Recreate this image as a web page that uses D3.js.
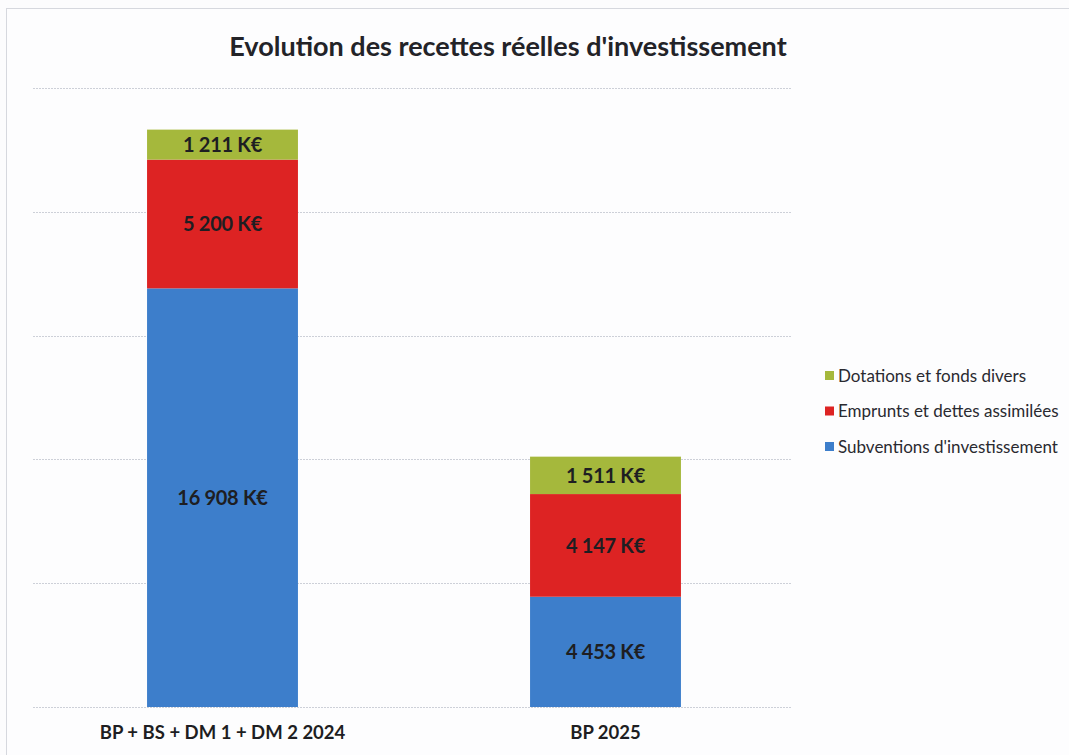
<!DOCTYPE html>
<html>
<head>
<meta charset="utf-8">
<script src="https://cdn.jsdelivr.net/npm/d3@7"></script>
<style>
  body { margin: 0; background: #fcfcfd; }
  svg { display: block; font-family: Lato, "Open Sans", sans-serif; }
</style>
</head>
<body>
<svg id="chart"></svg>
<script>
const categories = ['BP + BS + DM 1 + DM 2 2024', 'BP 2025'];
const series = ['Subventions d\'investissement', 'Emprunts et dettes assimilées', 'Dotations et fonds divers'];
const subventions = [16908, 4453];
const emprunts = [5200, 4147];
const dotations = [1211, 1511];
const gridTicks = [0, 5000, 10000, 15000, 20000, 25000];

const width = 1069,
      height = 755;
const margin = {top: 88, left: 31, right: 272, bottom: 48};
const colors = ['#3d7ecb', '#dd2323', '#a5b83c'];

const svg = d3.select('#chart')
              .attr('width', width)
              .attr('height', height);

// chart frame
svg.append('rect')
   .attr('x', 6.5)
   .attr('y', 8.5)
   .attr('width', width)
   .attr('height', height)
   .attr('fill', '#fdfdfe')
   .attr('stroke', '#d6d8de');

const rows = categories.map((c, i) => ({
  cat: c,
  sub: subventions[i],
  emp: emprunts[i],
  dot: dotations[i]
}));

const stack = d3.stack().keys(['sub', 'emp', 'dot'])(rows);

const x = d3.scaleBand()
            .domain(categories)
            .range([margin.left, width - margin.right])
            .paddingInner(0.606)
            .paddingOuter(0.303);

const y = d3.scaleLinear()
            .domain([0, 25000])
            .range([height - margin.bottom, margin.top]);

// gridlines
svg.append('g')
   .selectAll('line')
   .data(gridTicks)
   .join('line')
   .attr('x1', 33)
   .attr('x2', 792)
   .attr('y1', d => Math.round(y(d)) + 0.5)
   .attr('y2', d => Math.round(y(d)) + 0.5)
   .attr('stroke', '#cdd0d8')
   .attr('stroke-width', 1)
   .attr('stroke-dasharray', '2,1');

// bars
const layer = svg.append('g')
                 .selectAll('g')
                 .data(stack)
                 .join('g')
                 .attr('fill', (d, i) => colors[i]);

layer.selectAll('rect')
     .data(d => d)
     .join('rect')
     .attr('x', d => x(d.data.cat))
     .attr('width', x.bandwidth())
     .attr('y', d => y(d[1]))
     .attr('height', d => y(d[0]) - y(d[1]));

const fmt = v => d3.format(',')(v).replace(',', ' ') + ' K€';

layer.selectAll('text')
     .data(d => d)
     .join('text')
     .attr('x', d => x(d.data.cat) + x.bandwidth() / 2)
     .attr('y', d => (y(d[0]) + y(d[1])) / 2)
     .attr('dy', '0.36em')
     .attr('text-anchor', 'middle')
     .attr('fill', '#1e1e22')
     .attr('font-size', 20)
     .attr('font-weight', 'bold')
     .attr('letter-spacing', '-0.3')
     .text(d => fmt(d[1] - d[0]));

// x axis labels
const xAxis = d3.axisBottom(x).tickSize(0).tickPadding(19);
const gx = svg.append('g')
              .attr('transform', 'translate(0,' + (height - margin.bottom) + ')')
              .call(xAxis);
gx.select('.domain').remove();
gx.selectAll('text')
  .attr('font-family', 'Lato, sans-serif')
  .attr('font-size', 18.5)
  .attr('font-weight', 'bold')
  .attr('fill', '#1e1e22');

// title
svg.append('text')
   .attr('x', 508)
   .attr('y', 56)
   .attr('text-anchor', 'middle')
   .attr('font-size', 27)
   .attr('font-weight', 'bold')
   .attr('fill', '#232328')
   .text('Evolution des recettes réelles d\'investissement');

// legend, top entry is the top of the stack
const legendItems = series.map((s, i) => ({name: s, color: colors[i]})).reverse();
const legend = svg.append('g')
                  .selectAll('g')
                  .data(legendItems)
                  .join('g')
                  .attr('transform', (d, i) => 'translate(825,' + (376 + i * 35.5) + ')');

legend.append('rect')
      .attr('x', 0)
      .attr('y', -5)
      .attr('width', 9)
      .attr('height', 9)
      .attr('fill', d => d.color);

legend.append('text')
      .attr('x', 13)
      .attr('y', 0)
      .attr('dy', '0.35em')
      .attr('font-size', 17)
      .attr('fill', '#2a2a30')
      .text(d => d.name);
</script>
</body>
</html>
